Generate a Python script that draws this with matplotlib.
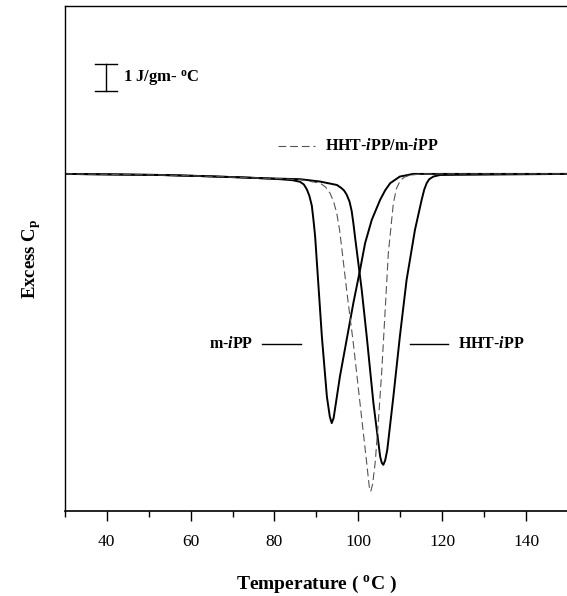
import matplotlib
matplotlib.use("Agg")
import matplotlib.pyplot as plt
from matplotlib.ticker import MultipleLocator

plt.rcParams["font.family"] = ["Liberation Serif", "DejaVu Serif"]
plt.rcParams["mathtext.fontset"] = "custom"
plt.rcParams["mathtext.rm"] = "Liberation Serif"
plt.rcParams["mathtext.it"] = "Liberation Serif:italic"
plt.rcParams["mathtext.bf"] = "Liberation Serif:bold"
plt.rcParams["mathtext.bfit"] = "Liberation Serif:italic:bold"

# DSC excess heat capacity traces (T in degC, excess Cp in J/g-degC, baseline = 0)
t_miPP = [30, 52.7, 62.2, 71.8, 76.5, 81.3, 84.4, 86.1, 87.0, 87.7, 88.3, 88.9,
          89.3, 89.7, 90.5, 91.3, 92.5, 93.2, 93.65, 94.1, 94.4, 95.6, 97.2, 98.8,
          100.4, 101.6, 103.2, 105.2, 106.4, 107.6, 109.9, 113.1, 150]
cp_miPP = [0.0, -0.04, -0.08, -0.13, -0.16, -0.20, -0.24, -0.30, -0.40, -0.58, -0.82, -1.20,
           -1.75, -2.38, -4.27, -6.16, -8.44, -9.20, -9.44, -9.25, -8.94, -7.68, -6.29, -4.90,
           -3.64, -2.63, -1.74, -0.98, -0.62, -0.35, -0.10, 0.0, 0.0]

t_hht = [30, 52.7, 62.2, 71.8, 76.5, 81.3, 86.1, 90.9, 94.9, 95.9, 96.6, 97.2,
         97.9, 98.4, 98.8, 99.2, 100.0, 100.8, 102.0, 103.6, 105.2, 105.6, 105.96,
         106.4, 106.9, 108.35, 109.9, 111.5, 113.5, 115.1, 115.7, 116.3, 116.9,
         117.9, 119.5, 150]
cp_hht = [0.0, -0.04, -0.08, -0.13, -0.16, -0.18, -0.20, -0.29, -0.42, -0.53, -0.63, -0.78,
          -1.05, -1.40, -1.85, -2.38, -3.38, -4.39, -6.16, -8.69, -10.71, -10.95, -11.02,
          -10.85, -10.45, -8.44, -6.16, -4.02, -2.12, -0.98, -0.60, -0.35, -0.20,
          -0.10, -0.04, 0.0]

t_blend = [30, 52.7, 62.2, 71.8, 76.5, 81.3, 86.1, 90.9, 92.2, 93.25, 94.1, 94.85,
           95.5, 96.0, 97.2, 98.8, 100.4, 102.0, 102.6, 102.96, 103.4, 104.0, 104.8,
           105.6, 106.4, 107.15, 108.35, 109.1, 110.0, 111.0, 112.3, 115.0, 150]
cp_blend = [0.0, -0.04, -0.08, -0.13, -0.16, -0.18, -0.22, -0.35, -0.50, -0.73, -1.05, -1.49,
            -2.10, -2.75, -4.39, -6.41, -8.69, -10.96, -11.85, -12.03, -11.75, -10.96, -9.32,
            -7.42, -5.15, -3.00, -1.11, -0.55, -0.25, -0.12, -0.05, 0.0, 0.0]

fig = plt.figure(figsize=(5.67, 5.96), dpi=100)
ax = fig.add_axes([0.1143, 0.1426, 0.8875, 0.8473])

ax.plot(t_miPP, cp_miPP, color="black", lw=1.4)
ax.plot(t_hht, cp_hht, color="black", lw=1.4)
ax.plot(t_blend, cp_blend, color="#555555", lw=0.8, dashes=(7, 3.5))

ax.set_xlim(30, 150)
ax.set_ylim(-12.77, 6.36)

# scale bar: 1 J/gm-oC
ax.plot([39.75, 39.75], [3.155, 4.155], color="black", lw=1.0)
ax.plot([37.2, 42.45], [4.155, 4.155], color="black", lw=1.0)
ax.plot([37.2, 42.45], [3.155, 3.155], color="black", lw=1.0)
ax.text(43.9, 3.6, r"1 J/gm- $^{\mathbf{o}}$C", fontsize=12, fontweight="bold",
        va="center", ha="left")

# labels for the curves
ax.plot([80.8, 89.7], [1.07, 1.07], color="#555555", lw=0.8, dashes=(7, 3.5))
ax.text(92.0, 1.07, r"HHT-$\mathbfit{i}$PP/m-$\mathbfit{i}$PP", fontsize=11.5,
        fontweight="bold", va="center", ha="left")
ax.plot([77.0, 86.3], [-6.45, -6.45], color="black", lw=1.0)
ax.text(74.9, -6.45, r"m-$\mathbfit{i}$PP", fontsize=11.5, fontweight="bold",
        va="center", ha="right")
ax.plot([112.3, 121.4], [-6.45, -6.45], color="black", lw=1.0)
ax.text(123.8, -6.45, r"HHT-$\mathbfit{i}$PP", fontsize=11.5, fontweight="bold",
        va="center", ha="left")

ax.xaxis.set_major_locator(MultipleLocator(20))
ax.xaxis.set_minor_locator(MultipleLocator(10))
ax.tick_params(axis="x", which="major", direction="out", length=7, width=1.0,
               labelsize=12.5, pad=9.5)
ax.tick_params(axis="x", which="minor", direction="out", length=4, width=1.0)
ax.set_yticks([])
ax.spines["right"].set_visible(False)
ax.spines["left"].set_linewidth(1.0)
ax.spines["bottom"].set_linewidth(1.2)
ax.spines["top"].set_linewidth(1.0)

ax.set_xlabel(r"Temperature ( $^{\mathbf{o}}$C )", fontsize=14, fontweight="bold",
              labelpad=17)
ax.set_ylabel(r"Excess C$_{\mathbf{p}}$", fontsize=13.5, fontweight="bold", labelpad=16)

fig.savefig("out.png", dpi=100)
